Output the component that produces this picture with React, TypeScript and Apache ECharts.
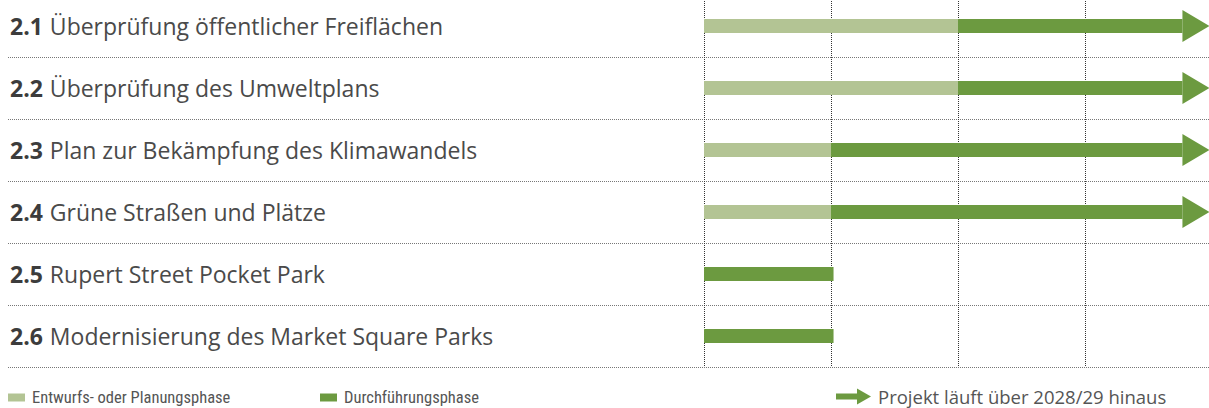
import React, { useEffect, useRef } from "react";
import * as echarts from "echarts";

const taskIds = ["2.1", "2.2", "2.3", "2.4", "2.5", "2.6"];
const taskTitles = [
  "Überprüfung öffentlicher Freiflächen",
  "Überprüfung des Umweltplans",
  "Plan zur Bekämpfung des Klimawandels",
  "Grüne Straßen und Plätze",
  "Rupert Street Pocket Park",
  "Modernisierung des Market Square Parks",
];
// timeline in project years (0 = start of first column)
const planStart = [0, 0, 0, 0, 0, 0];
const planEnd = [2, 2, 1, 1, 0, 0];
const implEnd = [3.98, 3.98, 3.98, 3.98, 1.02, 1.02];
const beyond = [1, 1, 1, 1, 0, 0];

const seriesNames = [
  "Entwurfs- oder Planungsphase",
  "Durchführungsphase",
  "Projekt läuft über 2028/29 hinaus",
];

const LIGHT = "#b3c494";
const DARK = "#6c9a40";
const HEAD_LEN = 27;
const HEAD_H = 32;
const BAR_H = 14;
const OFFSET = 5; // chart canvas starts 5px above the page
const EXTRA_W = 3; // and extends 3px past the right edge

export default function App() {
  const ref = useRef<HTMLDivElement>(null);
  useEffect(() => {
    if (!ref.current) return;
    const chart = echarts.init(ref.current, null, { renderer: "svg" });

    const planData = taskIds
      .map((_, i) => [i, planStart[i], planEnd[i]])
      .filter((d) => d[2] > d[1]);
    const implData = taskIds.map((_, i) => [i, planEnd[i], implEnd[i], beyond[i]]);
    const arrowData = taskIds
      .map((_, i) => [i, implEnd[i], beyond[i]])
      .filter((d) => d[2] === 1);

    const segRender = (params: any, api: any) => {
      const y = api.value(0);
      const s = api.coord([api.value(1), y]);
      const e = api.coord([api.value(2), y]);
      const cut = api.value(3) === 1 ? HEAD_LEN : 0;
      return {
        type: "rect",
        shape: { x: s[0], y: s[1] - BAR_H / 2, width: e[0] - cut - s[0], height: BAR_H },
        style: { fill: api.visual("color") },
      };
    };
    const arrowRender = (params: any, api: any) => {
      const y = api.value(0);
      const t = api.coord([api.value(1), y]);
      return {
        type: "polygon",
        shape: {
          points: [
            [t[0] - HEAD_LEN, t[1] - HEAD_H / 2],
            [t[0], t[1]],
            [t[0] - HEAD_LEN, t[1] + HEAD_H / 2],
          ],
        },
        style: { fill: api.visual("color") },
      };
    };

    const legendBase = {
      orient: "horizontal",
      itemGap: 0,
      padding: 0,
      selectedMode: false,
    };
    const narrowText = {
      fontFamily: "'Liberation Sans Narrow', 'Roboto Condensed', Roboto",
      fontSize: 16.5,
      color: "#555",
      padding: [0, 0, 0, 2],
    };

    chart.setOption({
      animation: false,
      grid: [
        { left: 8, right: 0, top: 0, height: 372 },
        { left: 704, right: 0, top: 0, height: 372 },
      ],
      xAxis: [
        { type: "value", gridIndex: 0, min: 0, max: 1, show: false },
        {
          type: "value",
          gridIndex: 1,
          min: 0,
          max: 4,
          interval: 1,
          axisLine: { show: false },
          axisTick: { show: false },
          axisLabel: { show: false },
          splitLine: { show: true, lineStyle: { type: "dotted", color: "#333", width: 1 } },
        },
      ],
      yAxis: [
        {
          type: "category",
          gridIndex: 0,
          inverse: true,
          data: taskIds,
          axisLine: { show: false },
          axisTick: { show: false },
          splitLine: { show: true, lineStyle: { type: "dotted", color: "#777", width: 1 } },
          axisLabel: {
            inside: true,
            margin: 2,
            formatter: (v: string, i: number) => `{b|${taskIds[i]}}{r|${taskTitles[i]}}`,
            rich: {
              b: {
                fontFamily: "Open Sans",
                fontWeight: "bold",
                fontSize: 23,
                color: "#3c3c3c",
                padding: [0, 7, 0, 0],
              },
              r: { fontFamily: "Open Sans", fontSize: 23, color: "#4a4a4a" },
            },
          },
        },
        {
          type: "category",
          gridIndex: 1,
          inverse: true,
          data: taskIds,
          show: false,
        },
      ],
      legend: [
        {
          ...legendBase,
          top: 389 + OFFSET,
          left: 8,
          data: [{ name: seriesNames[0], icon: "rect" }],
          itemWidth: 17,
          itemHeight: 8,
          textStyle: narrowText,
        },
        {
          ...legendBase,
          top: 389 + OFFSET,
          left: 320,
          data: [{ name: seriesNames[1], icon: "rect" }],
          itemWidth: 17,
          itemHeight: 8,
          textStyle: narrowText,
        },
        {
          ...legendBase,
          top: 387 + OFFSET,
          left: 836,
          data: [
            {
              name: seriesNames[2],
              icon: "path://M0,5 L21,5 L21,0 L35,8 L21,16 L21,11 L0,11 Z",
            },
          ],
          itemWidth: 35,
          itemHeight: 16,
          textStyle: {
            fontFamily: "Open Sans",
            fontSize: 18.5,
            color: "#555",
            padding: [0, 0, 0, 2],
          },
        },
      ],
      series: [
        {
          name: seriesNames[0],
          type: "custom",
          xAxisIndex: 1,
          yAxisIndex: 1,
          itemStyle: { color: LIGHT },
          encode: { x: [1, 2], y: 0 },
          renderItem: segRender,
          data: planData,
        },
        {
          name: seriesNames[1],
          type: "custom",
          xAxisIndex: 1,
          yAxisIndex: 1,
          itemStyle: { color: DARK },
          encode: { x: [1, 2], y: 0 },
          renderItem: segRender,
          data: implData,
        },
        {
          name: seriesNames[2],
          type: "custom",
          xAxisIndex: 1,
          yAxisIndex: 1,
          itemStyle: { color: DARK },
          encode: { x: 1, y: 0 },
          renderItem: arrowRender,
          data: arrowData,
        },
      ],
    });
    return () => chart.dispose();
  }, []);
  return (
    <div
      ref={ref}
      style={{
        position: "fixed",
        left: 0,
        top: -OFFSET,
        width: 1209 + EXTRA_W,
        height: 408 + OFFSET,
        background: "#fff",
      }}
    />
  );
}
